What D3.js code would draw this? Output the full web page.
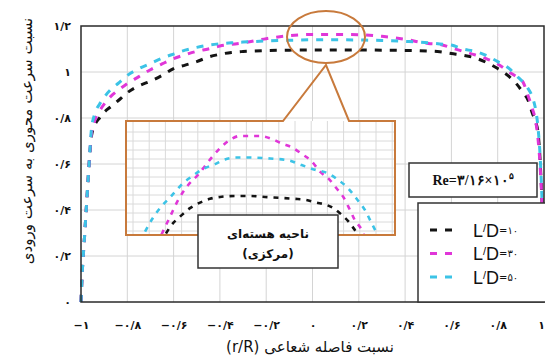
<!DOCTYPE html>
<html>
<head>
<meta charset="utf-8">
<script src="https://cdn.jsdelivr.net/npm/d3@7"></script>
<style>
body { margin: 0; background: #fff; }
text { font-family: "DejaVu Sans", sans-serif; fill: #111; }
</style>
</head>
<body>
<div id="canvas"></div>
<script>
//Global var.
var width = 545;
var height = 363;
var plot = {left: 81, right: 544, top: 26, bottom: 302};

//Data : r/R and u/U for each L/D
var rPos = [-1, -0.995, -0.985, -0.975, -0.965, -0.955, -0.94, -0.92, -0.9, -0.87, -0.84, -0.8, -0.75, -0.7, -0.65, -0.6, -0.55, -0.5, -0.45, -0.4, -0.35, -0.3, -0.2, -0.1, 0, 0.1, 0.2, 0.3, 0.4, 0.5, 0.55, 0.6, 0.65, 0.7, 0.75, 0.8, 0.85, 0.88, 0.91, 0.93, 0.95, 0.965, 0.975, 0.985, 0.995, 1];
var uLD10 = [0, 0.12, 0.28, 0.44, 0.6, 0.72, 0.77, 0.8, 0.825, 0.85, 0.875, 0.91, 0.94, 0.96, 0.985, 1.015, 1.03, 1.045, 1.065, 1.077, 1.085, 1.089, 1.093, 1.095, 1.096, 1.096, 1.096, 1.095, 1.094, 1.091, 1.088, 1.08, 1.073, 1.062, 1.042, 1.015, 0.98, 0.95, 0.91, 0.88, 0.82, 0.78, 0.73, 0.58, 0.3, 0];
var uLD30 = [0, 0.12, 0.28, 0.44, 0.6, 0.73, 0.79, 0.83, 0.86, 0.895, 0.92, 0.95, 0.98, 1.01, 1.035, 1.058, 1.075, 1.09, 1.1, 1.113, 1.12, 1.127, 1.145, 1.158, 1.163, 1.163, 1.162, 1.155, 1.142, 1.124, 1.12, 1.105, 1.09, 1.075, 1.058, 1.035, 1.0, 0.98, 0.955, 0.9, 0.84, 0.78, 0.7, 0.56, 0.3, 0];
var uLD50 = [0, 0.12, 0.28, 0.44, 0.6, 0.75, 0.82, 0.86, 0.89, 0.925, 0.95, 0.985, 1.015, 1.037, 1.06, 1.078, 1.095, 1.107, 1.117, 1.123, 1.127, 1.13, 1.135, 1.138, 1.14, 1.14, 1.139, 1.137, 1.133, 1.127, 1.122, 1.117, 1.1, 1.09, 1.072, 1.045, 1.015, 0.985, 0.955, 0.93, 0.89, 0.83, 0.75, 0.6, 0.3, 0];

//Inset (core region, magnified)
var insetR10 = [-0.56, -0.533, -0.467, -0.4, -0.333, -0.267, -0.2, -0.1, 0, 0.1, 0.2, 0.3, 0.367, 0.444, 0.5, 0.556, 0.611, 0.656, 0.689, 0.72];
var insetU10 = [1.056, 1.063, 1.074, 1.083, 1.089, 1.093, 1.095, 1.096, 1.096, 1.095, 1.094, 1.093, 1.092, 1.089, 1.087, 1.083, 1.076, 1.069, 1.062, 1.055];
var insetR30 = [-0.59, -0.533, -0.478, -0.411, -0.344, -0.3, -0.256, -0.2, -0.133, -0.067, 0, 0.067, 0.144, 0.211, 0.278, 0.344, 0.411, 0.467, 0.533, 0.578, 0.622, 0.667, 0.7, 0.744, 0.76];
var insetU30 = [1.055, 1.074, 1.092, 1.108, 1.119, 1.128, 1.137, 1.147, 1.156, 1.16, 1.16, 1.16, 1.157, 1.152, 1.148, 1.141, 1.133, 1.122, 1.113, 1.104, 1.095, 1.081, 1.07, 1.06, 1.054];
var insetR50 = [-0.7, -0.65, -0.59, -0.53, -0.444, -0.378, -0.311, -0.233, -0.167, -0.1, 0, 0.133, 0.256, 0.344, 0.433, 0.522, 0.589, 0.656, 0.711, 0.767, 0.811, 0.85];
var insetU50 = [1.058, 1.072, 1.085, 1.095, 1.11, 1.118, 1.125, 1.13, 1.135, 1.137, 1.137, 1.136, 1.134, 1.129, 1.124, 1.12, 1.113, 1.104, 1.093, 1.081, 1.067, 1.055];

var ldValues = ["۱۰", "۳۰", "۵۰"];
var seriesColors = ["#141414", "#e036d8", "#3cc3e6"];

var xTicks = [-1, -0.8, -0.6, -0.4, -0.2, 0, 0.2, 0.4, 0.6, 0.8, 1];
var xTickLabels = ["−۱", "−۰/۸", "−۰/۶", "−۰/۴", "−۰/۲", "۰", "۰/۲", "۰/۴", "۰/۶", "۰/۸", "۱"];
var yTicks = [0, 0.2, 0.4, 0.6, 0.8, 1, 1.2];
var yTickLabels = ["۰", "۰/۲", "۰/۴", "۰/۶", "۰/۸", "۱", "۱/۲"];

var ORANGE = "#c87a3c";

var svg = d3.select("div#canvas").append("svg")
    .attr("width", width)
    .attr("height", height);

svg.append("rect").attr("width", width).attr("height", height).attr("fill", "#fff");

var x = d3.scaleLinear().domain([-1, 1]).range([plot.left, plot.right]);
var y = d3.scaleLinear().domain([0, 1.2]).range([plot.bottom, plot.top]);

//grid
svg.append("g").selectAll("line")
    .data(xTicks.slice(1, -1)).enter().append("line")
    .attr("x1", function(d){ return x(d); }).attr("x2", function(d){ return x(d); })
    .attr("y1", plot.top).attr("y2", plot.bottom)
    .attr("stroke", "#d4d4d4").attr("stroke-width", 1);
svg.append("g").selectAll("line")
    .data(yTicks.slice(1, -1)).enter().append("line")
    .attr("y1", function(d){ return y(d); }).attr("y2", function(d){ return y(d); })
    .attr("x1", plot.left).attr("x2", plot.right)
    .attr("stroke", "#d4d4d4").attr("stroke-width", 1);

//curves
var mainSeries = [uLD10, uLD30, uLD50];
var line = d3.line()
    .x(function(d){ return x(d[0]); })
    .y(function(d){ return y(d[1]); })
    .curve(d3.curveMonotoneX);

mainSeries.forEach(function(u, i){
    svg.append("path")
        .datum(rPos.map(function(r, j){ return [r, u[j]]; }))
        .attr("d", line)
        .attr("fill", "none")
        .attr("stroke", seriesColors[i])
        .attr("stroke-width", 3)
        .attr("stroke-dasharray", "7,8");
});

//frame
svg.append("rect")
    .attr("x", plot.left).attr("y", plot.top)
    .attr("width", plot.right - plot.left).attr("height", plot.bottom - plot.top)
    .attr("fill", "none").attr("stroke", "#2a2a2a").attr("stroke-width", 1.5);

//inset
var ins = {left: 126, right: 395, top: 121, bottom: 235};
var xi = d3.scaleLinear().domain([-0.827, 0.967]).range([ins.left, ins.right]);
var yi = d3.scaleLinear().domain([1.0544, 1.176]).range([ins.bottom, ins.top]);

svg.append("defs").append("clipPath").attr("id", "insetClip")
    .append("rect")
    .attr("x", ins.left).attr("y", ins.top)
    .attr("width", ins.right - ins.left).attr("height", ins.bottom - ins.top);

svg.append("rect")
    .attr("x", ins.left).attr("y", ins.top)
    .attr("width", ins.right - ins.left).attr("height", ins.bottom - ins.top)
    .attr("fill", "#fff");

var ig = svg.append("g").attr("clip-path", "url(#insetClip)");
ig.selectAll("line.v")
    .data(d3.range(ins.left + 7, ins.right, 16.2)).enter().append("line")
    .attr("x1", function(d){ return d; }).attr("x2", function(d){ return d; })
    .attr("y1", ins.top).attr("y2", ins.bottom)
    .attr("stroke", "#dadada").attr("stroke-width", 1);
ig.selectAll("line.h")
    .data(d3.range(ins.top + 11, ins.bottom, 9)).enter().append("line")
    .attr("y1", function(d){ return d; }).attr("y2", function(d){ return d; })
    .attr("x1", ins.left).attr("x2", ins.right)
    .attr("stroke", "#dadada").attr("stroke-width", 1);

var insetLine = d3.line()
    .x(function(d){ return xi(d[0]); })
    .y(function(d){ return yi(d[1]); })
    .curve(d3.curveMonotoneX);
var insetSeries = [[insetR10, insetU10], [insetR30, insetU30], [insetR50, insetU50]];
insetSeries.forEach(function(s, i){
    ig.append("path")
        .datum(s[0].map(function(r, j){ return [r, s[1][j]]; }))
        .attr("d", insetLine)
        .attr("fill", "none")
        .attr("stroke", seriesColors[i])
        .attr("stroke-width", 2.6)
        .attr("stroke-dasharray", "5,6");
});

//callout : ellipse + pointer + box outline
svg.append("path")
    .attr("d", "M283," + ins.top + "L" + ins.left + "," + ins.top + "L" + ins.left + "," + ins.bottom +
        "L" + ins.right + "," + ins.bottom + "L" + ins.right + "," + ins.top + "L349," + ins.top +
        "L326,65Z")
    .attr("fill", "none").attr("stroke", ORANGE).attr("stroke-width", 2)
    .attr("stroke-linejoin", "miter");
svg.append("ellipse")
    .attr("cx", 326).attr("cy", 37).attr("rx", 39).attr("ry", 26)
    .attr("fill", "none").attr("stroke", ORANGE).attr("stroke-width", 2);

//core label
svg.append("rect").attr("x", 198).attr("y", 215).attr("width", 140).attr("height", 53)
    .attr("fill", "#fff").attr("stroke", "#333").attr("stroke-width", 1.5);
svg.append("text").attr("x", 268).attr("y", 238)
    .attr("text-anchor", "middle").attr("direction", "rtl")
    .style("font-size", "12px").style("font-weight", "bold")
    .text("ناحیه هسته‌ای");
svg.append("text").attr("x", 268).attr("y", 258)
    .attr("text-anchor", "middle").attr("direction", "rtl")
    .style("font-size", "12px").style("font-weight", "bold")
    .text("(مرکزی)");

//Re box
svg.append("rect").attr("x", 409).attr("y", 163).attr("width", 128).attr("height", 34)
    .attr("fill", "#fff").attr("stroke", "#333").attr("stroke-width", 1.5);
var re = svg.append("text").attr("x", 473).attr("y", 185)
    .attr("text-anchor", "middle")
    .style("font-family", "'Liberation Serif', serif").style("font-weight", "bold").style("font-size", "14px");
re.append("tspan").text("Re=۳/۱۶×۱۰");
re.append("tspan").attr("dy", -6).style("font-size", "9px").text("۵");

//legend
svg.append("rect").attr("x", 418).attr("y", 203).attr("width", 130).attr("height", 99)
    .attr("fill", "#fff").attr("stroke", "#333").attr("stroke-width", 1.5);
ldValues.forEach(function(v, i){
    var cy = 230 + i * 23.5;
    svg.append("line")
        .attr("x1", 430).attr("x2", 453).attr("y1", cy).attr("y2", cy)
        .attr("stroke", seriesColors[i]).attr("stroke-width", 3)
        .attr("stroke-dasharray", "7,8");
    var t = svg.append("text").attr("x", 473).attr("y", cy + 6.5)
        .style("font-family", "'Liberation Sans', Arial, sans-serif").style("font-size", "18px");
    t.append("tspan").text("L");
    t.append("tspan").attr("dy", -5).style("font-size", "11px").text("/");
    t.append("tspan").attr("dy", 5).text("D");
    t.append("tspan").attr("dy", -3).style("font-size", "10px")
        .style("font-family", "'DejaVu Sans', sans-serif").text("=" + v);
});

//axes
var xAxis = d3.axisBottom(x).tickValues(xTicks).tickSize(0).tickPadding(19)
    .tickFormat(function(d, i){ return xTickLabels[i]; });
var gx = svg.append("g").attr("transform", "translate(0," + plot.bottom + ")").call(xAxis);
gx.select(".domain").remove();
gx.selectAll("text").style("font-size", "11px").style("font-weight", "bold")
    .style("font-family", "'DejaVu Sans', sans-serif").attr("fill", "#111");
gx.selectAll("text").filter(function(d){ return d === 1; }).attr("dx", -3);

var yAxis = d3.axisLeft(y).tickValues(yTicks).tickSize(0).tickPadding(10)
    .tickFormat(function(d, i){ return yTickLabels[i]; });
var gy = svg.append("g").attr("transform", "translate(" + plot.left + ",0)").call(yAxis);
gy.select(".domain").remove();
gy.selectAll("text").style("font-size", "11px").style("font-weight", "bold")
    .style("font-family", "'DejaVu Sans', sans-serif").attr("fill", "#111");

//titles
svg.append("text")
    .attr("x", 310).attr("y", 352)
    .attr("text-anchor", "middle").attr("direction", "rtl")
    .style("font-size", "15px")
    .text("نسبت فاصله شعاعی (r/R)");
svg.append("text")
    .attr("transform", "translate(32,141)rotate(-90)")
    .attr("text-anchor", "middle").attr("direction", "rtl")
    .style("font-size", "15px")
    .text("نسبت سرعت محوری به سرعت ورودی");
</script>
</body>
</html>
